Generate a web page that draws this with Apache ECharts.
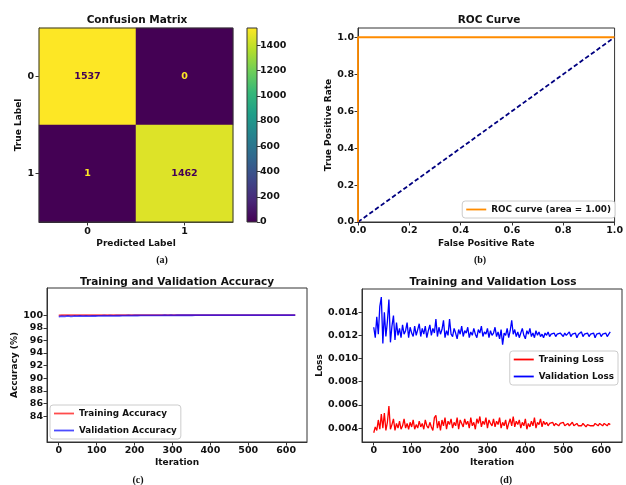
<!DOCTYPE html>
<html>
<head>
<meta charset="utf-8">
<script src="https://cdn.jsdelivr.net/npm/echarts@6/dist/echarts.min.js"></script>
<style>html,body{margin:0;padding:0;background:#fff;}#c{width:626px;height:485px;}</style>
</head>
<body>
<div id="c"></div>
<script>
// ---------- DATA ----------
const cmRows = ['0', '1'];            // true label
const cmCols = ['0', '1'];            // predicted label
const cmValues = [[1537, 0], [1, 1462]];
const cbTicks = [0, 200, 400, 600, 800, 1000, 1200, 1400];

const rocFpr = [0, 0, 1];
const rocTpr = [0, 1, 1];
const diagX = [0, 1];
const diagY = [0, 1];
const rocTicks = [0, 0.2, 0.4, 0.6, 0.8, 1.0];

const iterTicks = [0, 100, 200, 300, 400, 500, 600];
const accTicks = [84, 86, 88, 90, 92, 94, 96, 98, 100];
const lossTicks = [0.004, 0.006, 0.008, 0.010, 0.012, 0.014];

const accStep = 8;   // iterations between stored accuracy samples
const trainAcc = [
  99.97, 99.99, 100, 99.99, 100, 100, 99.99, 100, 100, 100,
  100, 100, 100, 100, 100, 100, 100, 100, 100, 100,
  100, 100, 100, 100, 100, 100, 100, 100, 100, 100,
  100, 100, 100, 100, 100, 100, 100, 100, 100, 100,
  100, 100, 100, 100, 100, 100, 100, 100, 100, 100,
  100, 100, 100, 100, 100, 100, 100, 100, 100, 100,
  100, 100, 100, 100, 100, 100, 100, 100, 100, 100,
  100, 100, 100, 100, 100, 100, 100, 100, 100
];
const valAcc = [
  99.78, 99.85, 99.80, 99.88, 99.82, 99.86, 99.83, 99.90, 99.84, 99.87,
  99.85, 99.89, 99.86, 99.88, 99.87, 99.90, 99.88, 99.91, 99.89, 99.92,
  99.90, 99.93, 99.91, 99.94, 99.93, 99.95, 99.94, 99.96, 99.95, 99.96,
  99.95, 99.97, 99.96, 99.97, 99.96, 99.98, 99.97, 99.98, 99.97, 99.98,
  99.98, 99.99, 99.98, 99.99, 99.98, 99.99, 99.99, 100, 99.99, 100,
  99.99, 100, 100, 99.99, 100, 100, 100, 100, 100, 100,
  100, 100, 100, 100, 100, 100, 100, 100, 100, 100,
  100, 100, 100, 100, 100, 100, 100, 100, 100
];

const lossStep = 4;  // iterations between stored loss samples
const trainLoss = [
  0.0036, 0.0041, 0.0038, 0.0047, 0.0039, 0.0052, 0.0040, 0.0053, 0.0038, 0.0045,
  0.0059, 0.0039, 0.0043, 0.0048, 0.0038, 0.0044, 0.0040, 0.0046, 0.0039, 0.0042,
  0.0048, 0.0040, 0.0044, 0.0039, 0.0045, 0.0041, 0.0047, 0.0039, 0.0043, 0.0040,
  0.0046, 0.0041, 0.0044, 0.0039, 0.0047, 0.0042, 0.0040, 0.0045, 0.0041, 0.0038,
  0.0049, 0.0051, 0.0040, 0.0046, 0.0038, 0.0047, 0.0042, 0.0049, 0.0039, 0.0046,
  0.0043, 0.0048, 0.0040, 0.0045, 0.0042, 0.0049, 0.0039, 0.0047, 0.0044, 0.0041,
  0.0048, 0.0043, 0.0046, 0.0040, 0.0049, 0.0042, 0.0045, 0.0039, 0.0048, 0.0044,
  0.0050, 0.0041, 0.0046, 0.0043, 0.0049, 0.0040, 0.0047, 0.0044, 0.0042, 0.0048,
  0.0041, 0.0046, 0.0043, 0.0049, 0.0040, 0.0045, 0.0042, 0.0047, 0.0039, 0.0044,
  0.0048, 0.0042, 0.0050, 0.0041, 0.0046, 0.0043, 0.0047, 0.0040, 0.0045, 0.0042,
  0.0048, 0.0039, 0.0044, 0.0041, 0.0046, 0.0042, 0.0049, 0.0040, 0.0045, 0.0043,
  0.0048, 0.0041, 0.0046, 0.0043, 0.0045, 0.0042, 0.0044, 0.0043, 0.0045, 0.0042,
  0.0044, 0.0043, 0.0042, 0.0044, 0.0043, 0.0045, 0.0042, 0.0043, 0.0044, 0.0042,
  0.0043, 0.0045, 0.0042, 0.0043, 0.0044, 0.0042, 0.0043, 0.0042, 0.0044, 0.0043,
  0.0041, 0.0043, 0.0044, 0.0042, 0.0043, 0.0042, 0.0044, 0.0043, 0.0042, 0.0044,
  0.0043, 0.0042, 0.0044, 0.0043, 0.0042, 0.0044, 0.0043
];
const valLoss = [
  0.0127, 0.0118, 0.0136, 0.0121, 0.0145, 0.0153, 0.0113, 0.0140, 0.0119, 0.0132,
  0.0151, 0.0114, 0.0128, 0.0137, 0.0116, 0.0131, 0.0120, 0.0126, 0.0118, 0.0129,
  0.0121, 0.0124, 0.0131, 0.0118, 0.0127, 0.0122, 0.0119, 0.0128, 0.0120, 0.0125,
  0.0130, 0.0119, 0.0126, 0.0121, 0.0128, 0.0118, 0.0124, 0.0129, 0.0120, 0.0126,
  0.0122, 0.0134, 0.0119, 0.0127, 0.0121, 0.0125, 0.0133, 0.0118, 0.0124, 0.0120,
  0.0134, 0.0121, 0.0119, 0.0126, 0.0122, 0.0117, 0.0125, 0.0121, 0.0128, 0.0119,
  0.0124, 0.0122, 0.0127, 0.0118, 0.0123, 0.0120, 0.0126, 0.0121, 0.0118, 0.0125,
  0.0122, 0.0128, 0.0119, 0.0123, 0.0121, 0.0126, 0.0118, 0.0124, 0.0120, 0.0122,
  0.0127, 0.0119, 0.0123, 0.0117, 0.0125, 0.0112, 0.0122, 0.0120, 0.0126, 0.0118,
  0.0124, 0.0133, 0.0121, 0.0125, 0.0119, 0.0123, 0.0118, 0.0122, 0.0126, 0.0120,
  0.0117, 0.0124, 0.0121, 0.0126, 0.0119, 0.0122, 0.0118, 0.0124, 0.0120, 0.0123,
  0.0119, 0.0121, 0.0118, 0.0122, 0.0120, 0.0123, 0.0119, 0.0121, 0.0120, 0.0122,
  0.0119, 0.0121, 0.0120, 0.0122, 0.0121, 0.0119, 0.0122, 0.0120, 0.0121, 0.0123,
  0.0119, 0.0121, 0.0120, 0.0122, 0.0118, 0.0121, 0.0120, 0.0123, 0.0119, 0.0121,
  0.0120, 0.0122, 0.0119, 0.0121, 0.0120, 0.0122, 0.0118, 0.0121, 0.0120, 0.0122,
  0.0119, 0.0121, 0.0120, 0.0122, 0.0119, 0.0121, 0.0123
];

// ---------- STYLE ----------
const FONT = 'DejaVu Sans';
const viridis = ['#440154', '#482878', '#3e4989', '#31688e', '#26828e',
                 '#1f9e89', '#35b779', '#6ece58', '#b5de2b', '#fde725'];
const spine = '#333';
const tickLabel = { color: '#111', fontFamily: FONT, fontWeight: 'bold', fontSize: 9.5 };
const axisName = { color: '#111', fontFamily: FONT, fontWeight: 'bold', fontSize: 9 };
const legendText = { fontFamily: FONT, fontWeight: 'bold', fontSize: 8.8, color: '#111' };

function pairs(step, arr) { return arr.map((v, i) => [i * step, v]); }
function valueAxis(gridIndex, min, max, ticks, fmt, name, gap, extra, labelMargin) {
  return Object.assign({
    gridIndex, type: 'value', min, max,
    axisLine: { show: true, onZero: false, lineStyle: { color: spine, width: 1 } },
    axisTick: { show: true, length: 3.5, customValues: ticks, lineStyle: { color: spine } },
    axisLabel: Object.assign({ customValues: ticks, formatter: fmt, margin: labelMargin || 4 }, tickLabel),
    splitLine: { show: false },
    name, nameLocation: 'middle', nameGap: gap, nameTextStyle: axisName
  }, extra || {});
}
function legendBox(names, pos, gap) {
  return Object.assign({
    data: names, orient: 'vertical', icon: 'rect', itemWidth: 20, itemHeight: 1.8, itemGap: gap,
    backgroundColor: '#fff', borderColor: '#ccc', borderWidth: 1, borderRadius: 3, padding: [4, 4],
    textStyle: legendText
  }, pos);
}

const maxCM = Math.max(...cmValues.flat());
const heatData = [];
cmValues.forEach((row, r) => row.forEach((v, c) => {
  heatData.push({ value: [c, r, v], label: { color: v > maxCM / 2 ? viridis[0] : viridis[9] } });
}));

const gradStops = viridis.map((c, i) => ({ offset: i / (viridis.length - 1), color: c }));
const titleFont = 'bold 10.5px "DejaVu Sans"';
const capFont = 'bold 10px "Liberation Serif"';
function txt(x, y, text, font) {
  return { type: 'text', x, y, style: { text, textAlign: 'center', textVerticalAlign: 'middle', font, fill: '#111' } };
}

const option = {
  animation: false,
  backgroundColor: '#fff',
  grid: [
    { left: 39, top: 28, width: 194, height: 194, show: true, borderColor: spine, borderWidth: 1, backgroundColor: 'transparent', z: 10 },
    { left: 247, top: 28, width: 10, height: 194, show: true, borderColor: spine, borderWidth: 1, backgroundColor: 'transparent', z: 10 },
    { left: 358, top: 28, width: 262, height: 194, show: true, borderColor: spine, borderWidth: 1, backgroundColor: 'transparent' },
    { left: 47, top: 288, width: 260, height: 154, show: true, borderColor: spine, borderWidth: 1, backgroundColor: 'transparent', z: 10 },
    { left: 362, top: 289, width: 260, height: 153, show: true, borderColor: spine, borderWidth: 1, backgroundColor: 'transparent', z: 10 }
  ],
  xAxis: [
    { gridIndex: 0, type: 'category', data: cmCols,
      axisLine: { show: true, lineStyle: { color: spine } },
      axisTick: { show: true, alignWithLabel: true, length: 3.5, lineStyle: { color: spine } },
      axisLabel: Object.assign({ margin: 5 }, tickLabel),
      splitLine: { show: false }, splitArea: { show: false },
      name: 'Predicted Label', nameLocation: 'middle', nameGap: 17, nameTextStyle: axisName },
    { gridIndex: 1, type: 'category', data: [''], show: false, boundaryGap: true },
    valueAxis(2, 0, 1, rocTicks, v => v.toFixed(1), 'False Positive Rate', 17),
    valueAxis(3, -31, 655, iterTicks, v => String(v), 'Iteration', 16),
    valueAxis(4, -31, 655, iterTicks, v => String(v), 'Iteration', 16)
  ],
  yAxis: [
    { gridIndex: 0, type: 'category', data: cmRows, inverse: true,
      axisLine: { show: true, lineStyle: { color: spine } },
      axisTick: { show: true, alignWithLabel: true, length: 3.5, lineStyle: { color: spine } },
      axisLabel: Object.assign({ margin: 5 }, tickLabel),
      splitLine: { show: false }, splitArea: { show: false },
      name: 'True Label', nameLocation: 'middle', nameGap: 15, nameTextStyle: axisName },
    valueAxis(1, 0, maxCM, cbTicks, v => String(v), '', 0, { position: 'right', axisLine: { show: false } }, 3),
    valueAxis(2, 0, 1.05, rocTicks, v => v.toFixed(1), 'True Positive Rate', 25),
    valueAxis(3, 79.9, 104.3, accTicks, v => String(v), 'Accuracy (%)', 28),
    valueAxis(4, 0.0028, 0.016, lossTicks, v => v.toFixed(3), 'Loss', 36)
  ],
  visualMap: {
    show: false, type: 'continuous', min: 0, max: maxCM, seriesIndex: 0, dimension: 2,
    inRange: { color: viridis }
  },
  legend: [
    legendBox(['ROC curve (area = 1.00)'], { right: 11, top: 201 }, 3),
    legendBox(['Training Accuracy', 'Validation Accuracy'], { left: 50, top: 405 }, 8),
    legendBox(['Training Loss', 'Validation Loss'], { right: 8, top: 351 }, 8)
  ],
  series: [
    { type: 'heatmap', xAxisIndex: 0, yAxisIndex: 0, data: heatData,
      label: { show: true, fontFamily: FONT, fontWeight: 'bold', fontSize: 9.5, formatter: p => String(p.value[2]) } },
    { type: 'bar', xAxisIndex: 1, yAxisIndex: 1, data: [maxCM], barWidth: '100%', barCategoryGap: '0%', silent: true,
      itemStyle: { color: new echarts.graphic.LinearGradient(0, 1, 0, 0, gradStops) } },
    { name: 'diag', type: 'line', xAxisIndex: 2, yAxisIndex: 2, symbol: 'none', clip: false, z: 3,
      data: diagX.map((x, i) => [x, diagY[i]]), lineStyle: { color: '#000080', width: 1.8, type: [4.5, 2.5] } },
    { name: 'ROC curve (area = 1.00)', type: 'line', xAxisIndex: 2, yAxisIndex: 2, symbol: 'none', clip: false, z: 4,
      data: rocFpr.map((x, i) => [x, rocTpr[i]]), lineStyle: { color: '#ff8c00', width: 1.8 }, itemStyle: { color: '#ff8c00' } },
    { name: 'Training Accuracy', type: 'line', xAxisIndex: 3, yAxisIndex: 3, symbol: 'none',
      data: pairs(accStep, trainAcc), lineStyle: { color: '#ff0000', width: 1.8, opacity: 0.7 }, itemStyle: { color: 'rgba(255,0,0,0.7)' } },
    { name: 'Validation Accuracy', type: 'line', xAxisIndex: 3, yAxisIndex: 3, symbol: 'none',
      data: pairs(accStep, valAcc), lineStyle: { color: '#0000ff', width: 1.8, opacity: 0.7 }, itemStyle: { color: 'rgba(0,0,255,0.7)' } },
    { name: 'Training Loss', type: 'line', xAxisIndex: 4, yAxisIndex: 4, symbol: 'none',
      data: pairs(lossStep, trainLoss), lineStyle: { color: '#ff0000', width: 1.3 }, itemStyle: { color: '#ff0000' } },
    { name: 'Validation Loss', type: 'line', xAxisIndex: 4, yAxisIndex: 4, symbol: 'none',
      data: pairs(lossStep, valLoss), lineStyle: { color: '#0000ff', width: 1.3 }, itemStyle: { color: '#0000ff' } }
  ],
  graphic: [
    txt(137, 20, 'Confusion Matrix', titleFont),
    txt(489, 20, 'ROC Curve', titleFont),
    txt(177, 282, 'Training and Validation Accuracy', titleFont),
    txt(493, 282, 'Training and Validation Loss', titleFont),
    txt(162, 260, '(a)', capFont),
    txt(480, 260, '(b)', capFont),
    txt(138, 480, '(c)', capFont),
    txt(506, 480, '(d)', capFont)
  ]
};

const chart = echarts.init(document.getElementById('c'), null, { renderer: 'canvas' });
chart.setOption(option);
</script>
</body>
</html>
